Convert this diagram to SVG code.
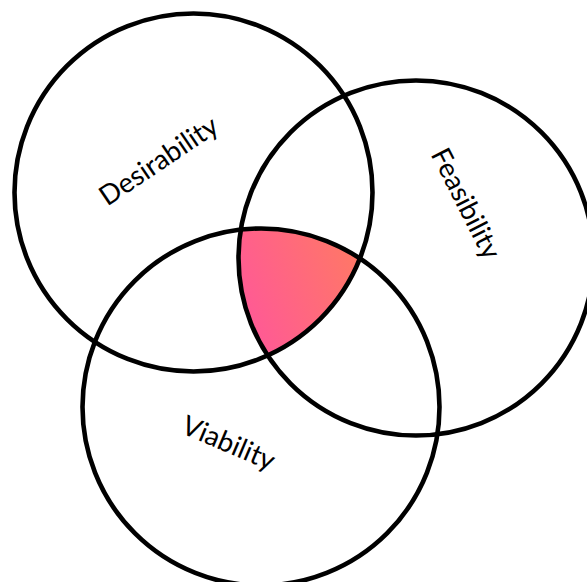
<svg xmlns="http://www.w3.org/2000/svg" width="587" height="582" viewBox="0 0 587 582">
  <style>
    .ring { fill: none; stroke: #000; stroke-width: 4.6; }
    .label { font-family: Lato, "Liberation Sans", sans-serif; font-size: 27.5px; fill: #000; text-anchor: middle; dominant-baseline: central; }
  </style>
  <defs>
    <linearGradient id="grad" gradientUnits="userSpaceOnUse" x1="245" y1="300" x2="355" y2="255">
      <stop offset="0" stop-color="#ff5b93"/>
      <stop offset="1" stop-color="#ff7767"/>
    </linearGradient>
    <clipPath id="clipD"><circle cx="193.5" cy="192.5" r="179"/></clipPath>
    <clipPath id="clipF"><circle cx="416" cy="258" r="177.5"/></clipPath>
  </defs>
  <rect width="587" height="582" fill="#fff"/>
  <g id="overlap" clip-path="url(#clipD)">
    <g clip-path="url(#clipF)">
      <circle cx="261" cy="407" r="178.5" fill="url(#grad)"/>
    </g>
  </g>
  <g id="desirability">
    <circle class="ring" cx="193.5" cy="192.5" r="179"/>
    <text class="label" transform="translate(158,160) rotate(-34)">Desirability</text>
  </g>
  <g id="feasibility">
    <circle class="ring" cx="416" cy="258" r="177.5"/>
    <text class="label" transform="translate(467,203) rotate(63)">Feasibility</text>
  </g>
  <g id="viability">
    <circle class="ring" cx="261" cy="407" r="178.5"/>
    <text class="label" transform="translate(229,442) rotate(23)">Viability</text>
  </g>
</svg>
